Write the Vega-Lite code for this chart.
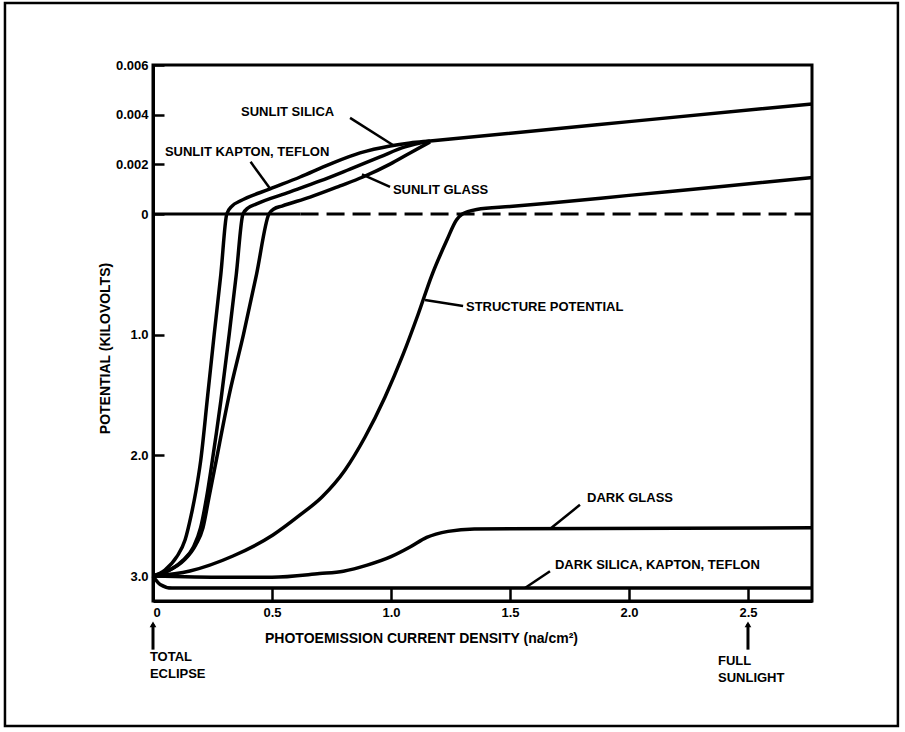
{
  "$schema": "https://vega.github.io/schema/vega-lite/v6.json",
  "width": 659,
  "height": 536,
  "autosize": "none",
  "padding": {"left": 153, "top": 65, "right": 93, "bottom": 131},
  "background": "white",
  "config": {
    "view": {"stroke": "black", "strokeWidth": 3},
    "font": "Liberation Sans",
    "axis": {
      "grid": false,
      "domainColor": "black",
      "domainWidth": 3,
      "tickColor": "black",
      "tickWidth": 2.5,
      "labelColor": "black",
      "labelFont": "Liberation Sans",
      "labelFontWeight": "bold",
      "labelFontSize": 13,
      "titleColor": "black",
      "titleFont": "Liberation Sans",
      "titleFontWeight": "bold",
      "titleFontSize": 14
    }
  },
  "datasets": {
    "curves": [
      {"series": "Sunlit Kapton, Teflon", "x": 0, "y": -3.0},
      {"series": "Sunlit Kapton, Teflon", "x": 0.05, "y": -2.95},
      {"series": "Sunlit Kapton, Teflon", "x": 0.10, "y": -2.84},
      {"series": "Sunlit Kapton, Teflon", "x": 0.135, "y": -2.7},
      {"series": "Sunlit Kapton, Teflon", "x": 0.16, "y": -2.5},
      {"series": "Sunlit Kapton, Teflon", "x": 0.18, "y": -2.3},
      {"series": "Sunlit Kapton, Teflon", "x": 0.20, "y": -2.05},
      {"series": "Sunlit Kapton, Teflon", "x": 0.23, "y": -1.5},
      {"series": "Sunlit Kapton, Teflon", "x": 0.257, "y": -1.0},
      {"series": "Sunlit Kapton, Teflon", "x": 0.285, "y": -0.5},
      {"series": "Sunlit Kapton, Teflon", "x": 0.31, "y": 0},
      {"series": "Sunlit Kapton, Teflon", "x": 0.332, "y": 0.00032},
      {"series": "Sunlit Kapton, Teflon", "x": 0.366, "y": 0.00052},
      {"series": "Sunlit Kapton, Teflon", "x": 0.492, "y": 0.00101},
      {"series": "Sunlit Kapton, Teflon", "x": 0.618, "y": 0.00149},
      {"series": "Sunlit Kapton, Teflon", "x": 0.744, "y": 0.00201},
      {"series": "Sunlit Kapton, Teflon", "x": 0.87, "y": 0.00246},
      {"series": "Sunlit Kapton, Teflon", "x": 0.996, "y": 0.00274},
      {"series": "Sunlit Kapton, Teflon", "x": 1.08, "y": 0.00286},
      {"series": "Sunlit Kapton, Teflon", "x": 1.164, "y": 0.00294},
      {"series": "Sunlit Kapton, Teflon", "x": 2.0, "y": 0.00372},
      {"series": "Sunlit Kapton, Teflon", "x": 2.769, "y": 0.00443},
      {"series": "Sunlit Silica", "x": 0, "y": -3.0},
      {"series": "Sunlit Silica", "x": 0.06, "y": -2.96},
      {"series": "Sunlit Silica", "x": 0.12, "y": -2.88},
      {"series": "Sunlit Silica", "x": 0.17, "y": -2.76},
      {"series": "Sunlit Silica", "x": 0.20, "y": -2.6},
      {"series": "Sunlit Silica", "x": 0.225, "y": -2.35},
      {"series": "Sunlit Silica", "x": 0.245, "y": -2.1},
      {"series": "Sunlit Silica", "x": 0.285, "y": -1.55},
      {"series": "Sunlit Silica", "x": 0.32, "y": -1.0},
      {"series": "Sunlit Silica", "x": 0.35, "y": -0.5},
      {"series": "Sunlit Silica", "x": 0.378, "y": 0},
      {"series": "Sunlit Silica", "x": 0.399, "y": 0.00024},
      {"series": "Sunlit Silica", "x": 0.433, "y": 0.0004},
      {"series": "Sunlit Silica", "x": 0.576, "y": 0.00089},
      {"series": "Sunlit Silica", "x": 0.702, "y": 0.00133},
      {"series": "Sunlit Silica", "x": 0.828, "y": 0.00181},
      {"series": "Sunlit Silica", "x": 0.954, "y": 0.0023},
      {"series": "Sunlit Silica", "x": 1.059, "y": 0.0027},
      {"series": "Sunlit Silica", "x": 1.164, "y": 0.00294},
      {"series": "Sunlit Glass", "x": 0, "y": -3.0},
      {"series": "Sunlit Glass", "x": 0.06, "y": -2.96},
      {"series": "Sunlit Glass", "x": 0.13, "y": -2.87},
      {"series": "Sunlit Glass", "x": 0.18, "y": -2.74},
      {"series": "Sunlit Glass", "x": 0.21, "y": -2.6},
      {"series": "Sunlit Glass", "x": 0.235, "y": -2.35},
      {"series": "Sunlit Glass", "x": 0.26, "y": -2.1},
      {"series": "Sunlit Glass", "x": 0.32, "y": -1.5},
      {"series": "Sunlit Glass", "x": 0.38, "y": -1.0},
      {"series": "Sunlit Glass", "x": 0.435, "y": -0.5},
      {"series": "Sunlit Glass", "x": 0.487, "y": 0},
      {"series": "Sunlit Glass", "x": 0.508, "y": 0.0002},
      {"series": "Sunlit Glass", "x": 0.542, "y": 0.00032},
      {"series": "Sunlit Glass", "x": 0.66, "y": 0.00068},
      {"series": "Sunlit Glass", "x": 0.786, "y": 0.00113},
      {"series": "Sunlit Glass", "x": 0.882, "y": 0.00149},
      {"series": "Sunlit Glass", "x": 0.996, "y": 0.00201},
      {"series": "Sunlit Glass", "x": 1.08, "y": 0.00246},
      {"series": "Sunlit Glass", "x": 1.164, "y": 0.0029},
      {"series": "Structure Potential", "x": 0, "y": -3.0},
      {"series": "Structure Potential", "x": 0.155, "y": -2.958},
      {"series": "Structure Potential", "x": 0.336, "y": -2.834},
      {"series": "Structure Potential", "x": 0.504, "y": -2.66},
      {"series": "Structure Potential", "x": 0.618, "y": -2.494},
      {"series": "Structure Potential", "x": 0.71, "y": -2.345},
      {"series": "Structure Potential", "x": 0.807, "y": -2.121},
      {"series": "Structure Potential", "x": 0.891, "y": -1.848},
      {"series": "Structure Potential", "x": 0.975, "y": -1.516},
      {"series": "Structure Potential", "x": 1.05, "y": -1.168},
      {"series": "Structure Potential", "x": 1.113, "y": -0.837},
      {"series": "Structure Potential", "x": 1.172, "y": -0.506},
      {"series": "Structure Potential", "x": 1.235, "y": -0.216},
      {"series": "Structure Potential", "x": 1.275, "y": -0.05},
      {"series": "Structure Potential", "x": 1.30, "y": 0},
      {"series": "Structure Potential", "x": 1.36, "y": 0.00018},
      {"series": "Structure Potential", "x": 1.5, "y": 0.0003},
      {"series": "Structure Potential", "x": 1.67, "y": 0.00044},
      {"series": "Structure Potential", "x": 2.0, "y": 0.00075},
      {"series": "Structure Potential", "x": 2.4, "y": 0.00112},
      {"series": "Structure Potential", "x": 2.769, "y": 0.00147},
      {"series": "Dark Glass", "x": 0, "y": -3.0},
      {"series": "Dark Glass", "x": 0.3, "y": -3.01},
      {"series": "Dark Glass", "x": 0.5, "y": -3.01},
      {"series": "Dark Glass", "x": 0.7, "y": -2.98},
      {"series": "Dark Glass", "x": 0.8, "y": -2.96},
      {"series": "Dark Glass", "x": 0.9, "y": -2.91},
      {"series": "Dark Glass", "x": 1.0, "y": -2.84},
      {"series": "Dark Glass", "x": 1.08, "y": -2.76},
      {"series": "Dark Glass", "x": 1.15, "y": -2.68},
      {"series": "Dark Glass", "x": 1.24, "y": -2.63},
      {"series": "Dark Glass", "x": 1.35, "y": -2.61},
      {"series": "Dark Glass", "x": 2.769, "y": -2.6},
      {"series": "Dark Silica, Kapton, Teflon", "x": 0, "y": -3.0},
      {"series": "Dark Silica, Kapton, Teflon", "x": 0.03, "y": -3.07},
      {"series": "Dark Silica, Kapton, Teflon", "x": 0.08, "y": -3.1},
      {"series": "Dark Silica, Kapton, Teflon", "x": 2.769, "y": -3.1}
    ],
    "zeroSolid": [{"x": 0, "x2": 0.62, "y": 0}],
    "zeroDashed": [{"x": 0.62, "x2": 2.769, "y": 0}],
    "leaders": [
      {"x": 0.828, "y": 0.00387, "x2": 1.008, "y2": 0.00278},
      {"x": 0.41, "y": 0.0021, "x2": 0.49, "y2": 0.00105},
      {"x": 0.878, "y": 0.0016, "x2": 0.996, "y2": 0.00109},
      {"x": 1.143, "y": -0.713, "x2": 1.303, "y2": -0.762},
      {"x": 1.668, "y": -2.61, "x2": 1.794, "y2": -2.41},
      {"x": 1.563, "y": -3.1, "x2": 1.668, "y2": -2.96}
    ],
    "labels": [
      {"x": 0.37, "y": 0.00411, "label": "SUNLIT SILICA"},
      {"x": 0.05, "y": 0.0025, "label": "SUNLIT KAPTON, TEFLON"},
      {"x": 1.008, "y": 0.00097, "label": "SUNLIT GLASS"},
      {"x": 1.315, "y": -0.771, "label": "STRUCTURE POTENTIAL"},
      {"x": 1.824, "y": -2.354, "label": "DARK GLASS"},
      {"x": 1.689, "y": -2.909, "label": "DARK SILICA, KAPTON, TEFLON"},
      {"x": -0.013, "y": -3.671, "label": "TOTAL"},
      {"x": -0.013, "y": -3.812, "label": "ECLIPSE"},
      {"x": 2.374, "y": -3.704, "label": "FULL"},
      {"x": 2.374, "y": -3.845, "label": "SUNLIGHT"}
    ],
    "arrows": [
      {"x": 0, "y": -3.40, "y2": -3.61},
      {"x": 2.5, "y": -3.40, "y2": -3.61}
    ],
    "border": [{"x": -0.622, "x2": 3.13, "y": 0.0085, "y2": -4.243}]
  },
  "encoding": {
    "x": {
      "field": "x",
      "type": "quantitative",
      "scale": {"domain": [0, 2.769], "nice": false, "zero": false},
      "axis": {
        "values": [0, 0.5, 1, 1.5, 2, 2.5],
        "labelExpr": "datum.value == 0 ? '0' : format(datum.value, '.1f')",
        "tickSize": -13,
        "labelPadding": 18,
        "title": "PHOTOEMISSION CURRENT DENSITY (na/cm²)",
        "titleX": 268,
        "titleY": 37,
        "titleBaseline": "middle",
        "titleAnchor": null
      }
    },
    "y": {
      "field": "y",
      "type": "quantitative",
      "scale": {"domain": [-3.207, 0, 0.006], "range": [536, 149, 0], "nice": false, "zero": false},
      "axis": {
        "values": [-3, -2, -1, 0, 0.002, 0.004, 0.006],
        "labelExpr": "datum.value > 0 ? format(datum.value, '.3f') : (datum.value == 0 ? '0' : format(-datum.value, '.1f'))",
        "tickSize": -11,
        "labelPadding": 16,
        "title": "POTENTIAL (KILOVOLTS)",
        "titleX": -48,
        "titleY": 283,
        "titleAngle": -90,
        "titleAlign": "center",
        "titleBaseline": "middle"
      }
    }
  },
  "layer": [
    {
      "data": {"name": "border"},
      "mark": {"type": "rect", "fill": null, "stroke": "black", "strokeWidth": 2.5},
      "encoding": {"x2": {"field": "x2"}, "y2": {"field": "y2"}}
    },
    {
      "data": {"name": "zeroSolid"},
      "mark": {"type": "rule", "color": "black", "strokeWidth": 3},
      "encoding": {"x2": {"field": "x2"}}
    },
    {
      "data": {"name": "zeroDashed"},
      "mark": {"type": "rule", "color": "black", "strokeWidth": 3, "strokeDash": [18, 8]},
      "encoding": {"x2": {"field": "x2"}}
    },
    {
      "data": {"name": "curves"},
      "mark": {"type": "line", "color": "black", "strokeWidth": 3.5, "interpolate": "monotone"},
      "encoding": {"detail": {"field": "series"}}
    },
    {
      "data": {"name": "leaders"},
      "mark": {"type": "rule", "color": "black", "strokeWidth": 2.5},
      "encoding": {"x2": {"field": "x2"}, "y2": {"field": "y2"}}
    },
    {
      "data": {"name": "arrows"},
      "mark": {"type": "rule", "color": "black", "strokeWidth": 3},
      "encoding": {"y2": {"field": "y2"}}
    },
    {
      "data": {"name": "arrows"},
      "mark": {"type": "point", "shape": "triangle-up", "filled": true, "color": "black", "size": 45, "opacity": 1},
      "encoding": {}
    },
    {
      "data": {"name": "labels"},
      "mark": {"type": "text", "align": "left", "baseline": "middle", "font": "Liberation Sans", "fontWeight": "bold", "fontSize": 13, "color": "black"},
      "encoding": {"text": {"field": "label"}}
    }
  ]
}
